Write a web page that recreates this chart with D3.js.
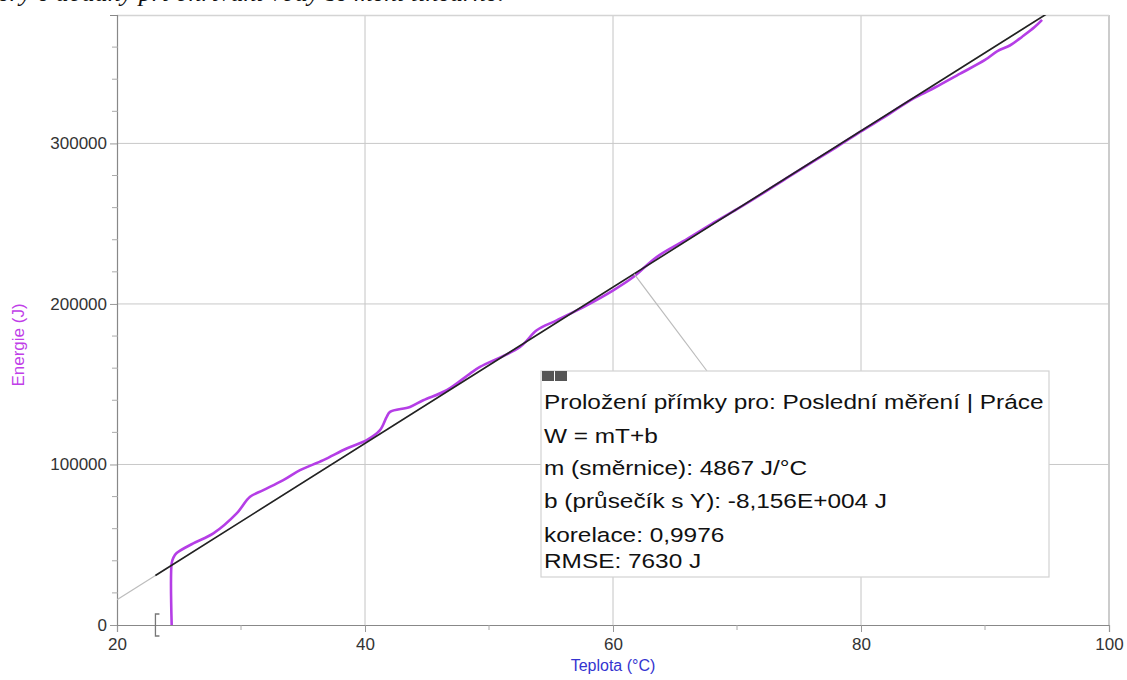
<!DOCTYPE html>
<html>
<head>
<meta charset="utf-8">
<script src="https://cdn.jsdelivr.net/npm/d3@7"></script>
<style>
body{margin:0;background:#fff;}
text{font-family:"Liberation Sans",Arial,sans-serif;}
</style>
</head>
<body>
<div id="graf"></div>
<script>
var width = 1127,
height = 680;

// mereni: teplota vody a dodana energie
var teplota = [24.41,24.41,24.55,24.81,26.15,27.77,29.65,30.73,31.80,33.41,34.76,36.64,38.52,40.14,41.21,41.75,42.02,43.63,44.70,46.59,48.47,49.27,52.50,53.85,55.46,57.88,60.02,61.64,63.52,66,68,70,72,74,76,78,80,82,84,85,86,88,90,91,92,93,94,94.6];
var energie = [0,38400,42000,44800,50840,57070,69510,79840,84010,90230,96460,102680,109960,115130,121350,129630,132740,135850,140020,146240,156630,160740,173190,183580,189800,199130,208470,216750,229190,240500,250000,259000,268500,278400,288000,297600,307500,317000,327000,331000,335000,343500,352000,357500,361000,366500,372500,377000];

// prolozeni primky W = mT+b
var smernice = 4867,
pruesecik = -81560,
rozsahFit = [23.1, 100],
popisekT = 61.7;

var xTicks = [20,40,60,80,100],
xMinor = [30,50,70,90],
yTicks = [0,100000,200000,300000],
yMinor = [20000,40000,60000,80000,120000,140000,160000,180000,220000,240000,260000,280000,320000,340000,360000];

var radky = ["Proložení přímky pro: Poslední měření | Práce","W = mT+b","m (směrnice): 4867 J/°C","b (průsečík s Y): -8,156E+004 J","korelace: 0,9976","RMSE: 7630 J"];
var radkyY = [409,443,475,508,542,568];

var x = d3.scaleLinear().domain([20,100]).range([117,1109]);
var y = d3.scaleLinear().domain([0,380000]).range([625,15]);

var svg = d3.select("#graf").append("svg")
	.attr("width",width)
	.attr("height",height)
	.style("background-color","#fff");

// odriznuty text nahore
svg.append("text")
	.attr("x",-2)
	.attr("y",1)
	.style("font-family","'Liberation Serif',serif")
	.style("font-style","italic")
	.style("font-size","26px")
	.attr("fill","#111")
	.text("ery e dodaný při ohřívání vody se mění lineárně.");

svg.append("defs").append("clipPath").attr("id","oblast")
	.append("rect").attr("x",117).attr("y",15).attr("width",992).attr("height",610);

// mrizka
svg.selectAll(".gx").data(xTicks.slice(1)).enter().append("line")
	.attr("x1",d=>x(d)).attr("x2",d=>x(d))
	.attr("y1",15).attr("y2",625)
	.attr("stroke",d=>d==100?"#999":"#c4c4c4").attr("stroke-width",1);
svg.selectAll(".gy").data(yTicks.slice(1)).enter().append("line")
	.attr("x1",117).attr("x2",1109)
	.attr("y1",d=>y(d)).attr("y2",d=>y(d))
	.attr("stroke","#c8c8c8").attr("stroke-width",1);
svg.append("line").attr("x1",117).attr("x2",1109).attr("y1",15.5).attr("y2",15.5)
	.attr("stroke","#d4d4d4").attr("stroke-width",1.5);

// osy
var osaX = svg.append("g").attr("transform","translate(0,625)")
	.call(d3.axisBottom(x).tickValues(xTicks).tickSize(7).tickPadding(4).tickFormat(d3.format("d")));
var osaY = svg.append("g").attr("transform","translate(117,0)")
	.call(d3.axisLeft(y).tickValues(yTicks).tickSize(7).tickPadding(3).tickFormat(d3.format("d")));
[osaX,osaY].forEach(function(o){
	o.select(".domain").attr("stroke","#888").attr("stroke-width",1.2);
	o.selectAll(".tick line").attr("stroke","#999");
	o.selectAll(".tick text").attr("fill","#333").style("font-size","17px");
});
osaX.selectAll(".tick text").attr("dy","0.8em");
svg.selectAll(".mx").data(xMinor).enter().append("line")
	.attr("x1",d=>x(d)).attr("x2",d=>x(d)).attr("y1",625).attr("y2",630)
	.attr("stroke","#aaa");
svg.selectAll(".my").data(yMinor).enter().append("line")
	.attr("x1",112).attr("x2",118).attr("y1",d=>y(d)).attr("y2",d=>y(d))
	.attr("stroke","#aaa");

svg.append("text")
	.attr("transform","translate(24,345) rotate(-90)")
	.attr("text-anchor","middle")
	.attr("fill","#c03ee8")
	.style("font-size","17px")
	.text("Energie (J)");
svg.append("text")
	.attr("x",613).attr("y",671)
	.attr("text-anchor","middle")
	.attr("fill","#3434d0")
	.style("font-size","16px")
	.text("Teplota (°C)");

var vykres = svg.append("g").attr("clip-path","url(#oblast)");
var fit = function(t){ return smernice*t + pruesecik; };

// cela primka svetle
vykres.append("line")
	.attr("x1",x(20)).attr("y1",y(fit(20)))
	.attr("x2",x(100)).attr("y2",y(fit(100)))
	.attr("stroke","#bdbdbd").attr("stroke-width",1.2);

// data
var cara = d3.line()
	.x((d,i)=>x(teplota[i]))
	.y((d,i)=>y(energie[i]))
	.curve(d3.curveCatmullRom.alpha(0.5));
vykres.append("path")
	.attr("d",cara(energie))
	.attr("fill","none")
	.attr("stroke","#b53ee6")
	.attr("stroke-width",2.6);

// primka v rozsahu
vykres.append("line")
	.attr("x1",x(rozsahFit[0])).attr("y1",y(fit(rozsahFit[0])))
	.attr("x2",x(rozsahFit[1])).attr("y2",y(fit(rozsahFit[1])))
	.attr("stroke","#222").attr("stroke-width",1.6);

// zavorka rozsahu
var bx = x(rozsahFit[0]);
svg.append("path")
	.attr("d","M"+(bx+4)+",614 L"+bx+",614 L"+bx+",636 L"+(bx+4)+",636")
	.attr("fill","none").attr("stroke","#777").attr("stroke-width",1.3);

// popisek
var boxX = 541, boxY = 371, boxW = 508, boxH = 206;
svg.append("line")
	.attr("x1",x(popisekT)).attr("y1",y(fit(popisekT)))
	.attr("x2",707).attr("y2",boxY)
	.attr("stroke","#bbb").attr("stroke-width",1.2);
svg.append("rect")
	.attr("x",boxX).attr("y",boxY).attr("width",boxW).attr("height",boxH)
	.attr("fill","#fff").attr("stroke","#d2d2d2").attr("stroke-width",1.2);
svg.append("rect").attr("x",boxX+1).attr("y",boxY).attr("width",12).attr("height",10).attr("fill","#555");
svg.append("rect").attr("x",boxX+14).attr("y",boxY).attr("width",12).attr("height",10).attr("fill","#555");
svg.selectAll(".radek").data(radky).enter().append("text")
	.attr("transform",(d,i)=>"translate(544,"+radkyY[i]+") scale(1.19,1)")
	.attr("fill","#111")
	.style("font-size","20.5px")
	.text(d=>d);
</script>
</body>
</html>
